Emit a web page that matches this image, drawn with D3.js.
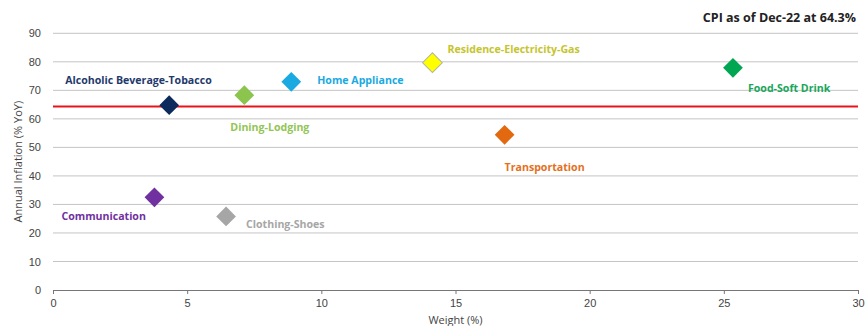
<!DOCTYPE html>
<html>
<head>
<meta charset="utf-8">
<script src="https://cdn.jsdelivr.net/npm/d3@7"></script>
<style>
  body { margin: 0; background: #fff; }
  svg { display: block; font-family: 'Open Sans', 'Noto Sans', sans-serif; }
</style>
</head>
<body>
<svg></svg>
<script>
const categories = ['Alcoholic Beverage-Tobacco', 'Dining-Lodging', 'Home Appliance', 'Residence-Electricity-Gas',
  'Transportation', 'Food-Soft Drink', 'Communication', 'Clothing-Shoes'];
const weights = [4.33, 7.13, 8.88, 14.14, 16.83, 25.34, 3.78, 6.45];
const inflation = [64.8, 68.3, 73.0, 79.7, 54.4, 77.9, 32.5, 25.8];
const cpi = 64.3;
const xTicks = [0, 5, 10, 15, 20, 25, 30];
const yTicks = [0, 10, 20, 30, 40, 50, 60, 70, 80, 90];

const markColors = ['#0c2a5c', '#8cc54e', '#1ba9e1', '#ffff00', '#e2690f', '#00a651', '#7030a0', '#a6a6a6'];
const labelColors = ['#1f3a6b', '#92c556', '#1ba9e1', '#c5c52e', '#e4701c', '#1aa65a', '#7030a0', '#a6a6a6'];
// label offsets relative to the marker (start anchor)
const labelDx = [-104, -14, 26, 15, 0, 15, -93, 20];
const labelDy = [-25, 32, -1, -13, 32, 20, 19, 8];

const width = 866;
const height = 326;

const svg = d3.select('svg')
  .attr('width', width)
  .attr('height', height);

const xScale = d3.scaleLinear().domain([0, 30]).range([53, 858]);
const yScale = d3.scaleLinear().domain([0, 90]).range([290, 33.3]);

// gridlines
svg.append('g')
  .selectAll('line')
  .data(yTicks.filter(d => d > 0))
  .enter()
  .append('line')
  .attr('x1', xScale(0))
  .attr('x2', xScale(30))
  .attr('y1', d => yScale(d))
  .attr('y2', d => yScale(d))
  .style('stroke', '#c4c4c4')
  .style('stroke-width', 1);

// y axis (labels only)
const yAxis = d3.axisLeft(yScale).tickValues(yTicks).tickSize(0).tickPadding(12);
const gy = svg.append('g')
  .attr('transform', `translate(${xScale(0)}, 0)`)
  .call(yAxis);
gy.select('.domain').remove();
gy.selectAll('text').style('font-size', '11px').style('fill', '#444');

// x axis
const xAxis = d3.axisBottom(xScale).tickValues(xTicks).tickSize(4).tickSizeOuter(0).tickPadding(5);
const gx = svg.append('g')
  .attr('transform', `translate(0, ${yScale(0)})`)
  .call(xAxis);
gx.select('.domain').style('stroke', '#777');
gx.selectAll('.tick line').style('stroke', '#777');
gx.selectAll('text').style('font-size', '11px').style('fill', '#444');

// CPI line
svg.append('line')
  .attr('x1', xScale(0))
  .attr('x2', xScale(30))
  .attr('y1', yScale(cpi))
  .attr('y2', yScale(cpi))
  .style('stroke', '#e8141b')
  .style('stroke-width', 2);

// diamonds
const diamond = d3.symbol().type(d3.symbolSquare).size(195);
svg.append('g')
  .selectAll('path')
  .data(categories)
  .enter()
  .append('path')
  .attr('d', diamond)
  .attr('transform', (d, i) => `translate(${xScale(weights[i])}, ${yScale(inflation[i])}) rotate(45)`)
  .style('fill', (d, i) => markColors[i])
  .style('stroke', (d, i) => i === 3 ? '#b5b5a0' : 'none')
  .style('stroke-width', 1);

// labels
svg.append('g')
  .selectAll('text')
  .data(categories)
  .enter()
  .append('text')
  .attr('x', (d, i) => xScale(weights[i]) + labelDx[i])
  .attr('y', (d, i) => yScale(inflation[i]) + labelDy[i])
  .attr('dy', '0.35em')
  .style('font-size', '10.6px')
  .style('font-weight', 'bold')
  .style('fill', (d, i) => labelColors[i])
  .text(d => d);

// title
svg.append('text')
  .attr('x', 856)
  .attr('y', 18)
  .attr('dy', '0.35em')
  .attr('text-anchor', 'end')
  .style('font-size', '12.5px')
  .style('font-weight', 'bold')
  .style('fill', '#222')
  .text('CPI as of Dec-22 at 64.3%');

// axis titles
svg.append('text')
  .attr('transform', `translate(18, ${yScale(45)}) rotate(-90)`)
  .attr('text-anchor', 'middle')
  .attr('dy', '0.35em')
  .style('font-size', '11px')
  .style('fill', '#444')
  .text('Annual Inflation (% YoY)');

svg.append('text')
  .attr('x', xScale(15))
  .attr('y', 320)
  .attr('text-anchor', 'middle')
  .attr('dy', '0.35em')
  .style('font-size', '11px')
  .style('fill', '#444')
  .text('Weight (%)');
</script>
</body>
</html>
